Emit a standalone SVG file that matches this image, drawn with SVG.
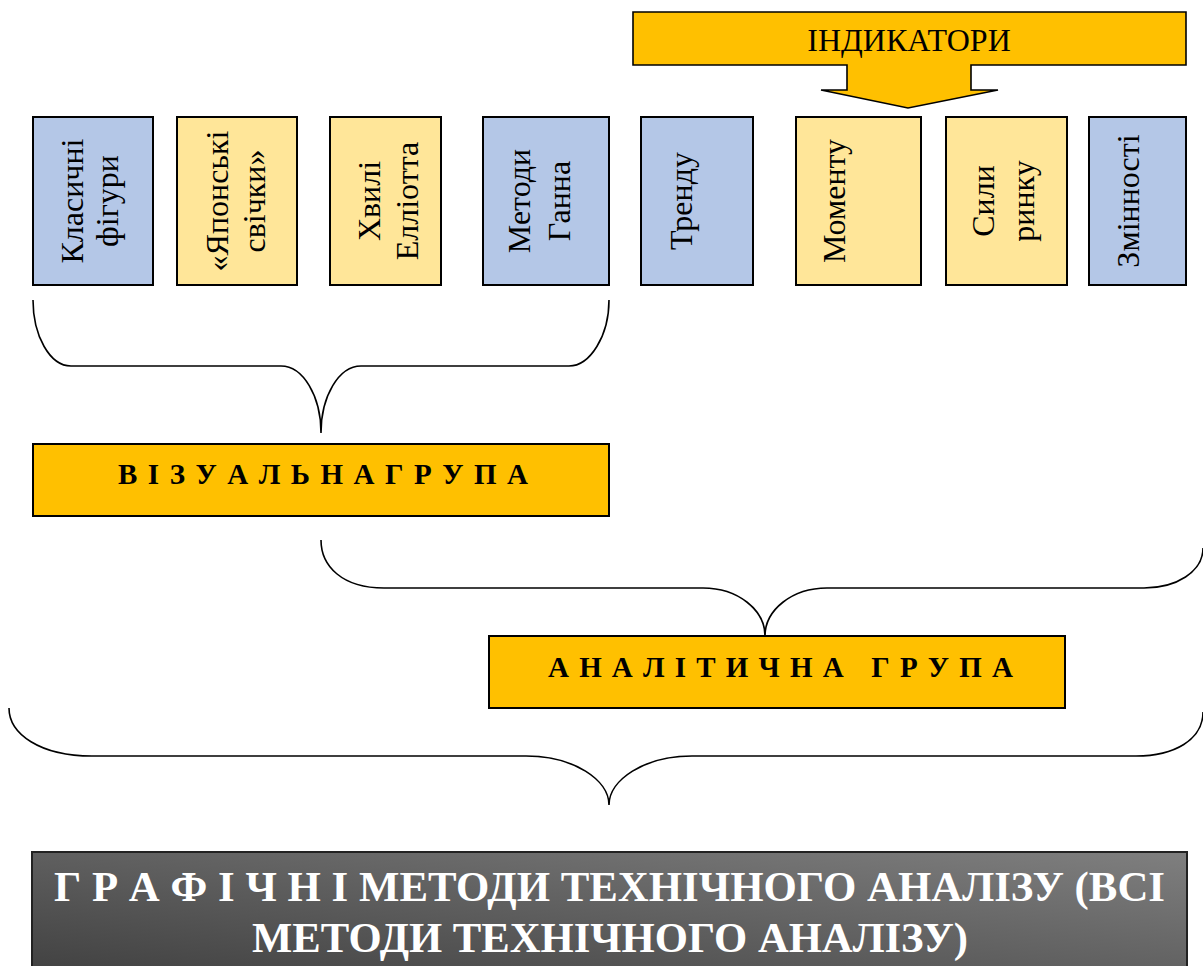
<svg xmlns="http://www.w3.org/2000/svg" width="1203" height="966" viewBox="0 0 1203 966">
<style>
.box{stroke:#000;stroke-width:2}
.blue{fill:#B4C7E7}
.yel{fill:#FFE699}
.org{fill:#FFC000}
.t{font-family:"Liberation Serif","Times New Roman",serif;font-size:32px;fill:#000}
.g{font-family:"Liberation Serif","Times New Roman",serif;font-size:29px;font-weight:bold;fill:#000;white-space:pre}
.w{font-family:"Liberation Serif","Times New Roman",serif;font-size:43px;font-weight:bold;fill:#fff}
.br{fill:none;stroke:#000;stroke-width:1.6}
</style>
<defs>
<linearGradient id="dark" x1="1" y1="0" x2="0" y2="1">
<stop offset="0" stop-color="#7F7F7F"/>
<stop offset="1" stop-color="#3F3F3F"/>
</linearGradient>
</defs>
<rect width="1203" height="966" fill="#fff"/>

<g id="indicators">
<polygon class="org" stroke="#000" stroke-width="1.6" points="633,12 1186,12 1186,65 971,65 971,90 998,90 908,108 821,90 847,90 847,65 633,65"/>
<text class="t" x="909" y="51" text-anchor="middle">ІНДИКАТОРИ</text>
</g>

<g id="n1"><rect class="box blue" x="33" y="117" width="120" height="168"/>
<text class="t" transform="translate(93,201) rotate(-90)" text-anchor="middle"><tspan x="0" y="-10">Класичні</tspan><tspan x="0" y="25">фігури</tspan></text></g>
<g id="n2"><rect class="box yel" x="177" y="117" width="120" height="168"/>
<text class="t" transform="translate(237,201) rotate(-90)" text-anchor="middle"><tspan x="0" y="-9">«Японські</tspan><tspan x="0" y="28">свічки»</tspan></text></g>
<g id="n3"><rect class="box yel" x="330" y="117" width="111" height="168"/>
<text class="t" transform="translate(385.5,201) rotate(-90)" text-anchor="middle"><tspan x="0" y="-6">Хвилі</tspan><tspan x="0" y="32">Елліотта</tspan></text></g>
<g id="n4"><rect class="box blue" x="483" y="117" width="126" height="168"/>
<text class="t" transform="translate(546,201) rotate(-90)" text-anchor="middle"><tspan x="0" y="-16">Методи</tspan><tspan x="0" y="24">Ганна</tspan></text></g>
<g id="n5"><rect class="box blue" x="641" y="117" width="112" height="168"/>
<text class="t" transform="translate(697,201) rotate(-90)" text-anchor="middle"><tspan x="0" y="-5">Тренду</tspan></text></g>
<g id="n6"><rect class="box yel" x="796" y="117" width="125" height="168"/>
<text class="t" transform="translate(858.5,201) rotate(-90)" text-anchor="middle"><tspan x="0" y="-14">Моменту</tspan></text></g>
<g id="n7"><rect class="box yel" x="946" y="117" width="121" height="168"/>
<text class="t" transform="translate(1006.5,201) rotate(-90)" text-anchor="middle"><tspan x="0" y="-13">Сили</tspan><tspan x="0" y="27">ринку</tspan></text></g>
<g id="n8"><rect class="box blue" x="1089" y="117" width="97" height="168"/>
<text class="t" transform="translate(1137.5,201) rotate(-90)" text-anchor="middle"><tspan x="0" y="1">Змінності</tspan></text></g>

<g id="visual"><rect class="box org" x="33" y="444" width="576" height="72"/>
<text class="g" x="118" y="484" textLength="410" lengthAdjust="spacing">В І З У А Л Ь Н А Г Р У П А</text></g>

<g id="analytic"><rect class="box org" x="489" y="636" width="576" height="72"/>
<text class="g" x="548" y="677" textLength="465" lengthAdjust="spacing">А Н А Л І Т И Ч Н А   Г Р У П А</text></g>

<g id="all"><rect x="32" y="852" width="1155" height="130" fill="url(#dark)" stroke="#222" stroke-width="2"/>
<text class="w" x="54" y="901" textLength="1111" lengthAdjust="spacingAndGlyphs">Г Р А Ф І Ч Н І МЕТОДИ ТЕХНІЧНОГО АНАЛІЗУ (ВСІ</text>
<text class="w" x="252" y="952" textLength="716" lengthAdjust="spacingAndGlyphs">МЕТОДИ ТЕХНІЧНОГО АНАЛІЗУ)</text></g>

<g id="connectors">
<path class="br" d="M33,300 C33,336 50,366 71,366 L281,366 C303,366 321,396 321,433 C321,396 339,366 361,366 L569,366 C590,366 609,336 609,300"/>
<path class="br" d="M321,540 C321,566 342,588 384,588 L703,588 C738,588 765,610 765,636 C765,610 792,588 827,588 L1144,588 C1176,588 1203,572 1203,548"/>
<path class="br" d="M9,708 C9,734 40,756 92,756 L526,756 C574,756 609,780 609,805 C609,780 644,756 692,756 L1136,756 C1174,756 1203,740 1203,712"/>
</g>
</svg>
